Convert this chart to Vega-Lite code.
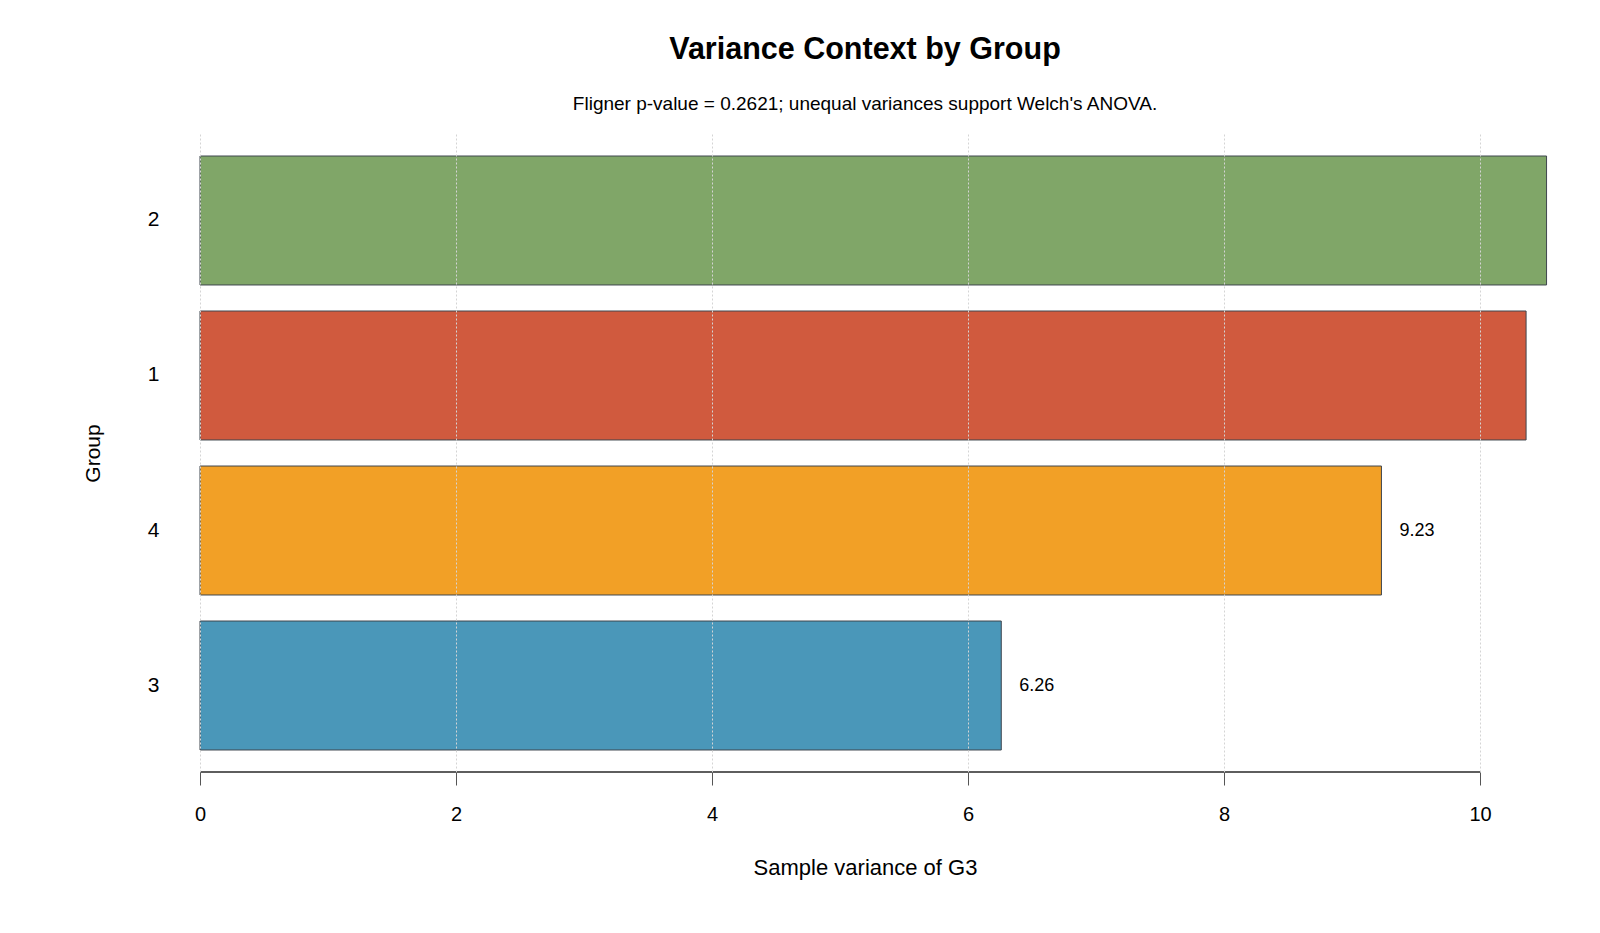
{
  "$schema": "https://vega.github.io/schema/vega-lite/v6.json",
  "autosize": "none",
  "width": 1330,
  "height": 638,
  "padding": {"left": 200, "top": 134, "right": 70, "bottom": 161},
  "background": "white",
  "config": {
    "font": "Liberation Sans",
    "view": {"stroke": null}
  },
  "title": {
    "text": "Variance Context by Group",
    "subtitle": "Fligner p-value = 0.2621; unequal variances support Welch's ANOVA.",
    "anchor": "middle",
    "frame": "group",
    "font": "Liberation Sans",
    "fontSize": 30.5,
    "fontWeight": "bold",
    "color": "black",
    "subtitleFont": "Liberation Sans",
    "subtitleFontSize": 19,
    "subtitleColor": "black",
    "subtitlePadding": 30,
    "offset": 20
  },
  "data": {
    "values": [
      {"group": "2", "variance": 10.52},
      {"group": "1", "variance": 10.36},
      {"group": "4", "variance": 9.23},
      {"group": "3", "variance": 6.26}
    ]
  },
  "encoding": {
    "y": {
      "field": "group",
      "type": "nominal",
      "sort": ["2", "1", "4", "3"],
      "scale": {"paddingInner": 0.168, "paddingOuter": 0.142},
      "axis": {
        "title": "Group",
        "titleFont": "Liberation Sans",
        "titleFontSize": 21,
        "titleFontWeight": "normal",
        "titleColor": "black",
        "titlePadding": 44,
        "labelFont": "Liberation Sans",
        "labelFontSize": 21,
        "labelColor": "black",
        "labelPadding": 41,
        "ticks": false,
        "domain": false,
        "grid": false
      }
    }
  },
  "layer": [
    {
      "mark": {"type": "bar", "stroke": "#3f464e", "strokeWidth": 1},
      "encoding": {
        "x": {
          "field": "variance",
          "type": "quantitative",
          "scale": {"domain": [0, 10.390625], "nice": false, "zero": true},
          "axis": {
            "title": "Sample variance of G3",
            "titleFont": "Liberation Sans",
            "titleFontSize": 22,
            "titleFontWeight": "normal",
            "titleColor": "black",
            "titlePadding": 33,
            "values": [0, 2, 4, 6, 8, 10],
            "format": "d",
            "labelFlush": false,
            "labelFont": "Liberation Sans",
            "labelFontSize": 20,
            "labelColor": "black",
            "labelPadding": 19,
            "tickSize": 13,
            "tickColor": "#555555",
            "tickWidth": 1,
            "domain": false,
            "grid": true,
            "gridColor": "#d4d4d4",
            "gridDash": [2, 2],
            "gridWidth": 1,
            "zindex": 1
          }
        },
        "color": {
          "field": "group",
          "type": "nominal",
          "scale": {
            "domain": ["2", "1", "4", "3"],
            "range": ["#80A668", "#D05A3E", "#F2A026", "#4A97B9"]
          },
          "legend": null
        }
      }
    },
    {
      "transform": [{"filter": "datum.variance < 10"}],
      "mark": {"type": "text", "align": "left", "baseline": "middle", "dx": 18, "fontSize": 18, "font": "Liberation Sans", "color": "black"},
      "encoding": {
        "x": {"field": "variance", "type": "quantitative"},
        "text": {"field": "variance", "type": "quantitative", "format": ".2f"}
      }
    },
    {
      "mark": {"type": "rule", "color": "#555555", "strokeWidth": 1},
      "encoding": {
        "x": {"datum": 0, "type": "quantitative"},
        "x2": {"datum": 10},
        "y": {"value": "height"}
      }
    }
  ]
}
